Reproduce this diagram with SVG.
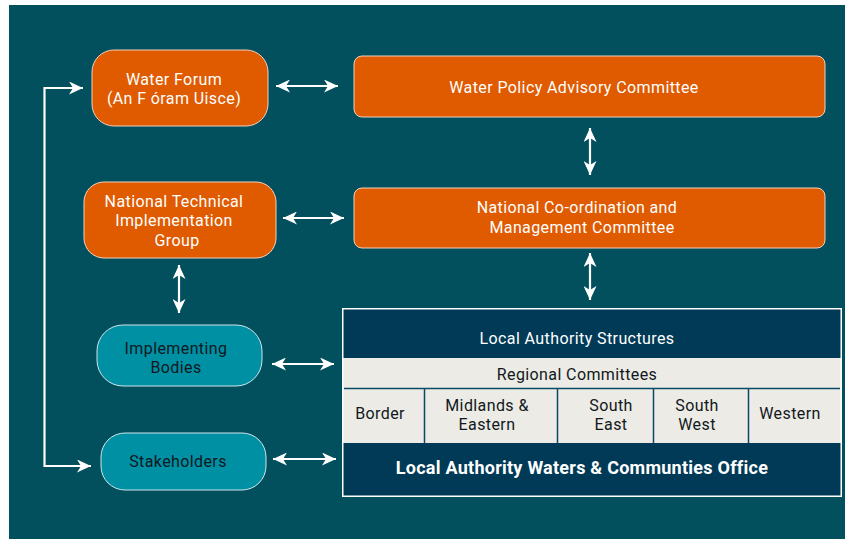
<svg xmlns="http://www.w3.org/2000/svg" width="845" height="539" viewBox="0 0 845 539">
<style>
.t{font-family:Roboto,"Liberation Sans",sans-serif;font-size:16px;letter-spacing:0.4px;text-anchor:middle}
.w{fill:#ffffff}
.d{fill:#111820}
.org{fill:#e05a00;stroke:#f3d2bd;stroke-width:1}
.tl{fill:#0090a4;stroke:#cfe6ea;stroke-width:1}
.con{stroke:#ffffff;stroke-width:2.2;fill:none}
.cell{fill:#ecebe5}
.nav{fill:#003a57}
.div{stroke:#0a4a66;stroke-width:1.5}
</style>
<defs>
<marker id="ah" markerUnits="userSpaceOnUse" markerWidth="15" markerHeight="13" viewBox="0 0 15 13" refX="14" refY="6.5" orient="auto-start-reverse">
<path d="M0,0 L14,6.5 L0,13 L4,6.5 z" fill="#ffffff"/>
</marker>
</defs>
<rect x="0" y="0" width="845" height="539" fill="#ffffff"/>
<rect x="9" y="5" width="836" height="534" fill="#024f5e"/>

<g id="connectors">
<line class="con" x1="276" y1="86" x2="338" y2="86" marker-start="url(#ah)" marker-end="url(#ah)"/>
<line class="con" x1="283" y1="218" x2="344" y2="218" marker-start="url(#ah)" marker-end="url(#ah)"/>
<line class="con" x1="590" y1="128" x2="590" y2="175" marker-start="url(#ah)" marker-end="url(#ah)"/>
<line class="con" x1="590" y1="253" x2="590" y2="300" marker-start="url(#ah)" marker-end="url(#ah)"/>
<line class="con" x1="179" y1="265" x2="179" y2="313" marker-start="url(#ah)" marker-end="url(#ah)"/>
<line class="con" x1="272" y1="364" x2="334" y2="364" marker-start="url(#ah)" marker-end="url(#ah)"/>
<line class="con" x1="273" y1="459" x2="336" y2="459" marker-start="url(#ah)" marker-end="url(#ah)"/>
<polyline class="con" points="83,88 44.5,88 44.5,466 91,466" marker-start="url(#ah)" marker-end="url(#ah)"/>
</g>

<g id="water-forum">
<rect class="org" x="92" y="50" width="176" height="76" rx="22"/>
<text class="t w" x="174" y="85">Water Forum</text>
<text class="t w" x="174" y="104">(An F óram Uisce)</text>
</g>

<g id="wpac">
<rect class="org" x="354" y="56" width="471" height="61" rx="8"/>
<text class="t w" x="574" y="93">Water Policy Advisory Committee</text>
</g>

<g id="ntig">
<rect class="org" x="84" y="182" width="192" height="76" rx="20"/>
<text class="t w" x="174" y="207">National Technical</text>
<text class="t w" x="174" y="226">Implementation</text>
<text class="t w" x="177" y="246">Group</text>
</g>

<g id="ncmc">
<rect class="org" x="354" y="188" width="471" height="60" rx="8"/>
<text class="t w" x="577" y="213">National Co-ordination and</text>
<text class="t w" x="582" y="233">Management Committee</text>
</g>

<g id="implementing-bodies">
<rect class="tl" x="97" y="325" width="165" height="61" rx="26"/>
<text class="t d" x="176" y="354">Implementing</text>
<text class="t d" x="176" y="373">Bodies</text>
</g>

<g id="stakeholders">
<rect class="tl" x="101" y="433" width="165" height="57" rx="24"/>
<text class="t d" x="178" y="467">Stakeholders</text>
</g>

<g id="local-authority">
<rect x="342" y="308" width="500" height="189" fill="#ffffff"/>
<rect class="nav" x="343.5" y="309.5" width="497" height="48.5"/>
<text class="t w" x="577" y="344">Local Authority Structures</text>
<rect class="cell" x="343.5" y="358" width="497" height="85"/>
<text class="t d" x="577" y="380">Regional Committees</text>
<line class="div" x1="344" y1="388.5" x2="840" y2="388.5"/>
<line class="div" x1="424.5" y1="389" x2="424.5" y2="443"/>
<line class="div" x1="557.5" y1="389" x2="557.5" y2="443"/>
<line class="div" x1="653.5" y1="389" x2="653.5" y2="443"/>
<line class="div" x1="748.5" y1="389" x2="748.5" y2="443"/>
<text class="t d" x="380" y="419">Border</text>
<text class="t d" x="487" y="411">Midlands &amp;</text>
<text class="t d" x="487" y="430">Eastern</text>
<text class="t d" x="611" y="411">South</text>
<text class="t d" x="611" y="430">East</text>
<text class="t d" x="697" y="411">South</text>
<text class="t d" x="697" y="430">West</text>
<text class="t d" x="790" y="419">Western</text>
<rect class="nav" x="343.5" y="443" width="497" height="52.5"/>
<text class="t w" x="582" y="474" style="font-weight:bold;font-size:18px;letter-spacing:0.25px">Local Authority Waters &amp; Communties Office</text>
</g>
</svg>
